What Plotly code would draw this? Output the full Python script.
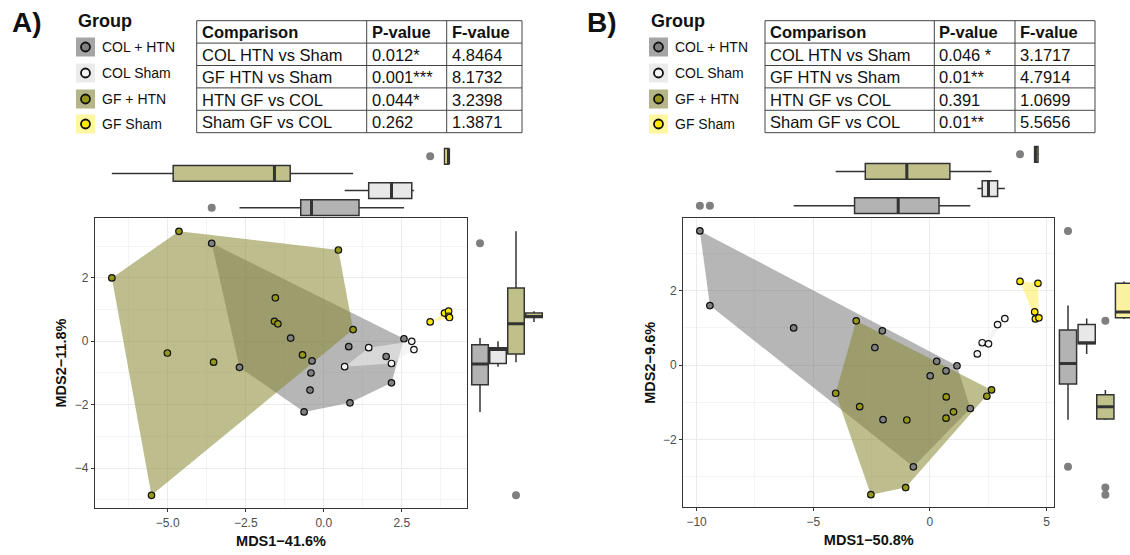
import numpy as np
import plotly.graph_objects as go

W, H = 1130, 555

# ---------------- data ----------------
groups = ["COL + HTN", "COL Sham", "GF + HTN", "GF Sham"]

# Panel A (MDS1-41.6%, MDS2-11.8%)
a_colhtn_x = [-3.59, -2.70, -1.06, -0.63, -0.44, -0.41, -0.375, 0.80, 0.84, 2.00, 2.17, 2.57]
a_colhtn_y = [3.09, -0.82, 0.10, -2.23, -1.54, -1.00, -0.62, -0.17, -1.94, -0.48, -1.31, 0.08]
a_colsham_x = [0.67, 1.44, 2.17, 2.82, 2.89]
a_colsham_y = [-0.80, -0.20, -0.70, 0.00, -0.26]
a_gfhtn_x = [-6.79, -5.52, -5.01, -4.64, -3.53, -1.58, -1.55, -1.47, -0.68, 0.47, 0.94]
a_gfhtn_y = [2.00, -4.86, -0.37, 3.47, -0.66, 0.63, 1.37, 0.55, -0.43, 2.88, 0.37]
a_gfsham_x = [3.41, 3.87, 4.00, 4.00, 4.03]
a_gfsham_y = [0.61, 0.89, 0.95, 0.79, 0.75]

# Panel B (MDS1-50.8%, MDS2-9.6%)
b_colhtn_x = [-9.86, -9.43, -5.84, -2.36, -2.04, -2.01, -0.71, 0.01, 0.29, 0.69, 1.16, 1.73]
b_colhtn_y = [3.61, 1.60, 1.00, 0.47, 0.92, -1.47, -2.74, -0.29, 0.10, -0.16, -0.02, -1.17]
b_colsham_x = [2.03, 2.24, 2.51, 2.90, 3.21]
b_colsham_y = [0.30, 0.60, 0.57, 1.09, 1.25]
b_gfhtn_x = [-4.04, -3.16, -3.01, -2.53, -1.04, -0.99, 0.69, 0.70, 1.01, 2.44, 2.64]
b_gfhtn_y = [-0.76, 1.19, -1.12, -3.49, -3.30, -1.48, -1.43, -0.86, -1.26, -0.84, -0.67]
b_gfsham_x = [3.86, 4.63, 4.49, 4.52, 4.67]
b_gfsham_y = [2.25, 2.20, 1.43, 1.24, 1.27]

# Tables
comparisons = ["COL HTN vs Sham", "GF HTN vs Sham", "HTN GF vs COL", "Sham GF vs COL"]
a_pvalues = ["0.012*", "0.001***", "0.044*", "0.262"]
a_fvalues = ["4.8464", "8.1732", "3.2398", "1.3871"]
b_pvalues = ["0.046 *", "0.01**", "0.391", "0.01**"]
b_fvalues = ["3.1717", "4.7914", "1.0699", "5.5656"]
table_header = ["Comparison", "P-value", "F-value"]

a_xlabel, a_ylabel = "MDS1\u221241.6%", "MDS2\u221211.8%"
b_xlabel, b_ylabel = "MDS1\u221250.8%", "MDS2\u22129.6%"

# ---------------- styles ----------------
pt_fill = ["#808080", "#f4f4f4", "#96961a", "#ffe800"]
poly_fill = ["rgba(110,110,110,0.5)", "rgba(238,238,238,0.6)",
             "rgba(135,135,50,0.55)", "rgba(255,236,70,0.5)"]
box_fill = ["#b3b3b3", "#e8e8e8", "#c0c08a", "#faf29e"]
key_fill = ["#a5a5a5", "#ebebeb", "#b5b587", "#fff6a0"]
FONT = "Arial, Liberation Sans, sans-serif"
GRID = "#ebebeb"
MINOR = "#f4f4f4"
BORDER = "#333333"

def px_x(p):
    return p / W

def px_y(p):
    return 1 - p / H

def hull(xs, ys):
    pts = sorted(set(zip(xs, ys)))
    if len(pts) < 3:
        return pts
    def cross(o, a, b):
        return (a[0]-o[0])*(b[1]-o[1]) - (a[1]-o[1])*(b[0]-o[0])
    lower, upper = [], []
    for p in pts:
        while len(lower) >= 2 and cross(lower[-2], lower[-1], p) <= 0:
            lower.pop()
        lower.append(p)
    for p in reversed(pts):
        while len(upper) >= 2 and cross(upper[-2], upper[-1], p) <= 0:
            upper.pop()
        upper.append(p)
    return lower[:-1] + upper[:-1]

def box_stats(v):
    v = np.asarray(v, float)
    q1, med, q3 = np.percentile(v, [25, 50, 75])
    iqr = q3 - q1
    lo, hi = q1 - 1.5 * iqr, q3 + 1.5 * iqr
    inside = v[(v >= lo) & (v <= hi)]
    outl = v[(v < lo) | (v > hi)]
    return q1, med, q3, inside.min(), inside.max(), outl

fig = go.Figure()

panels = [
    dict(xs=[a_colhtn_x, a_colsham_x, a_gfhtn_x, a_gfsham_x],
         ys=[a_colhtn_y, a_colsham_y, a_gfhtn_y, a_gfsham_y],
         main=("x", "y"), top=("x2", "y2"), right=("x3", "y3")),
    dict(xs=[b_colhtn_x, b_colsham_x, b_gfhtn_x, b_gfsham_x],
         ys=[b_colhtn_y, b_colsham_y, b_gfhtn_y, b_gfsham_y],
         main=("x4", "y4"), top=("x5", "y5"), right=("x6", "y6")),
]

BW = 0.92
for P in panels:
    mx, my = P["main"]
    for g in range(4):
        h = hull(P["xs"][g], P["ys"][g])
        hx = [p[0] for p in h] + [h[0][0]]
        hy = [p[1] for p in h] + [h[0][1]]
        fig.add_trace(go.Scatter(x=hx, y=hy, mode="lines", fill="toself",
                                 fillcolor=poly_fill[g], line=dict(width=0),
                                 xaxis=mx, yaxis=my, showlegend=False, hoverinfo="skip"))
    for g in range(4):
        fig.add_trace(go.Scatter(x=P["xs"][g], y=P["ys"][g], mode="markers",
                                 marker=dict(size=6.5, color=pt_fill[g],
                                             line=dict(color="#111111", width=1.2)),
                                 xaxis=mx, yaxis=my, showlegend=False, name=groups[g]))
    tx, ty = P["top"]
    rx, ry = P["right"]
    for g in range(4):
        slot = g + 1
        q1, med, q3, lo, hi, outl = box_stats(P["xs"][g])
        fig.add_trace(go.Box(y=[slot], q1=[q1], median=[med], q3=[q3],
                             lowerfence=[lo], upperfence=[hi], orientation="h",
                             width=BW, whiskerwidth=0, fillcolor=box_fill[g],
                             line=dict(color=BORDER, width=1.5), boxpoints=False,
                             xaxis=tx, yaxis=ty, showlegend=False, hoverinfo="skip"))
        fig.add_trace(go.Scatter(x=[med, med], y=[slot - BW / 2, slot + BW / 2], mode="lines",
                                 line=dict(color=BORDER, width=3), xaxis=tx, yaxis=ty,
                                 showlegend=False, hoverinfo="skip"))
        if len(outl):
            fig.add_trace(go.Scatter(x=list(outl), y=[slot] * len(outl), mode="markers",
                                     marker=dict(size=8, color="#7f7f7f"), xaxis=tx, yaxis=ty,
                                     showlegend=False, hoverinfo="skip"))
        q1, med, q3, lo, hi, outl = box_stats(P["ys"][g])
        fig.add_trace(go.Box(x=[slot], q1=[q1], median=[med], q3=[q3],
                             lowerfence=[lo], upperfence=[hi], orientation="v",
                             width=BW, whiskerwidth=0, fillcolor=box_fill[g],
                             line=dict(color=BORDER, width=1.5), boxpoints=False,
                             xaxis=rx, yaxis=ry, showlegend=False, hoverinfo="skip"))
        fig.add_trace(go.Scatter(x=[slot - BW / 2, slot + BW / 2], y=[med, med], mode="lines",
                                 line=dict(color=BORDER, width=3), xaxis=rx, yaxis=ry,
                                 showlegend=False, hoverinfo="skip"))
        if len(outl):
            fig.add_trace(go.Scatter(x=[slot] * len(outl), y=list(outl), mode="markers",
                                     marker=dict(size=8, color="#7f7f7f"), xaxis=rx, yaxis=ry,
                                     showlegend=False, hoverinfo="skip"))

def main_axis(domain, rng, dtick, minor, fmt, title, standoff, tick0=0):
    return dict(domain=domain, range=rng, dtick=dtick, tick0=tick0, tickformat=fmt,
                showgrid=True, gridcolor=GRID, gridwidth=1.2,
                minor=dict(dtick=minor, tick0=0, showgrid=True, gridcolor=MINOR, gridwidth=0.8),
                showline=True, mirror=True, linecolor=BORDER, linewidth=1.2,
                ticks="outside", ticklen=3, tickwidth=1, tickcolor=BORDER,
                tickfont=dict(family=FONT, size=12, color="#4d4d4d"),
                title=dict(text="<b>" + title + "</b>", font=dict(family=FONT, size=14.5, color="#111"),
                           standoff=standoff),
                zeroline=False)

def hidden(domain, rng):
    return dict(domain=domain, range=rng, visible=False, showgrid=False, zeroline=False)

A_main_x = [px_x(95), px_x(467)]
A_main_y = [px_y(508), px_y(218)]
B_main_x = [px_x(683.3), px_x(1054.3)]
B_main_y = [px_y(507.3), px_y(218.3)]

fig.update_layout(
    width=W, height=H, margin=dict(l=0, r=0, t=0, b=0),
    paper_bgcolor="white", plot_bgcolor="white", showlegend=False,
    xaxis=main_axis(A_main_x, [-7.33, 4.59], 2.5, 1.25, ".1f", a_xlabel, 7),
    yaxis=main_axis(A_main_y, [-5.26, 3.89], 2, 1, "d", a_ylabel, 4),
    xaxis2=hidden(A_main_x, [-7.33, 4.59]) | dict(anchor="y2"),
    yaxis2=hidden([px_y(218), px_y(146)], [0.4, 4.6]) | dict(anchor="x2"),
    xaxis3=hidden([px_x(469.2), px_x(544.8)], [0.4, 4.6]) | dict(anchor="y3"),
    yaxis3=hidden(A_main_y, [-5.26, 3.89]) | dict(anchor="x3"),
    xaxis4=main_axis(B_main_x, [-10.57, 5.33], 5, 2.5, "d", b_xlabel, 7) | dict(anchor="y4"),
    yaxis4=main_axis(B_main_y, [-3.83, 3.95], 2, 1, "d", b_ylabel, 4) | dict(anchor="x4"),
    xaxis5=hidden(B_main_x, [-10.57, 5.33]) | dict(anchor="y5"),
    yaxis5=hidden([px_y(216), px_y(144)], [0.4, 4.6]) | dict(anchor="x5"),
    xaxis6=hidden([px_x(1056.8), 1.0], [0.4, 4.32]) | dict(anchor="y6"),
    yaxis6=hidden(B_main_y, [-3.83, 3.95]) | dict(anchor="x6"),
)

shapes = []
annots = []

def add_text(x, y, text, size, bold=False, xanchor="left", color="#111111"):
    annots.append(dict(x=px_x(x), y=px_y(y), xref="paper", yref="paper", showarrow=False,
                       text=("<b>%s</b>" % text) if bold else text, xanchor=xanchor, yanchor="middle",
                       font=dict(family=FONT, size=size, color=color)))

def add_panel_decor(label, label_x, group_x, col_edges, pvals, fvals):
    add_text(label_x, 22, label, 28, bold=True)
    add_text(group_x, 21, "Group", 18, bold=True)
    centers = [47, 73, 99, 124]
    for g in range(4):
        cy = centers[g]
        shapes.append(dict(type="rect", xref="paper", yref="paper",
                           x0=px_x(group_x), x1=px_x(group_x + 19),
                           y0=px_y(cy + 9.5), y1=px_y(cy - 9.5),
                           fillcolor=key_fill[g], line=dict(width=0)))
        shapes.append(dict(type="circle", xref="paper", yref="paper",
                           x0=px_x(group_x + 9.5 - 4.5), x1=px_x(group_x + 9.5 + 4.5),
                           y0=px_y(cy + 4.5), y1=px_y(cy - 4.5),
                           fillcolor=pt_fill[g], line=dict(color="#111111", width=1.8)))
        add_text(group_x + 24, cy, groups[g], 14)
    rows = [20.7 + 22.4 * i for i in range(6)]
    cols = list(col_edges)
    left, right = cols[0], cols[-1]
    for r in rows:
        shapes.append(dict(type="line", xref="paper", yref="paper", x0=px_x(left), x1=px_x(right),
                           y0=px_y(r), y1=px_y(r), line=dict(color="#444444", width=1)))
    for c in cols:
        shapes.append(dict(type="line", xref="paper", yref="paper", x0=px_x(c), x1=px_x(c),
                           y0=px_y(rows[0]), y1=px_y(rows[-1]), line=dict(color="#444444", width=1)))
    for j, htxt in enumerate(table_header):
        add_text(cols[j] + 3, (rows[0] + rows[1]) / 2 + 0.5, htxt, 16.5, bold=True)
    for i in range(4):
        cy = (rows[i + 1] + rows[i + 2]) / 2 + 0.5
        add_text(cols[0] + 3, cy, comparisons[i], 16.5)
        add_text(cols[1] + 3, cy, pvals[i], 16.5)
        add_text(cols[2] + 3, cy, fvals[i], 16.5)

add_panel_decor("A)", 10, 76, [196.7, 366.7, 446.7, 522], a_pvalues, a_fvalues)
add_panel_decor("B)", 585, 649, [765, 934.3, 1015, 1095], b_pvalues, b_fvalues)

fig.update_layout(shapes=shapes, annotations=annots)
fig.write_html("out.html", config={"displayModeBar": False},
               post_script="document.body.style.margin='0px';document.body.style.overflow='hidden';")
